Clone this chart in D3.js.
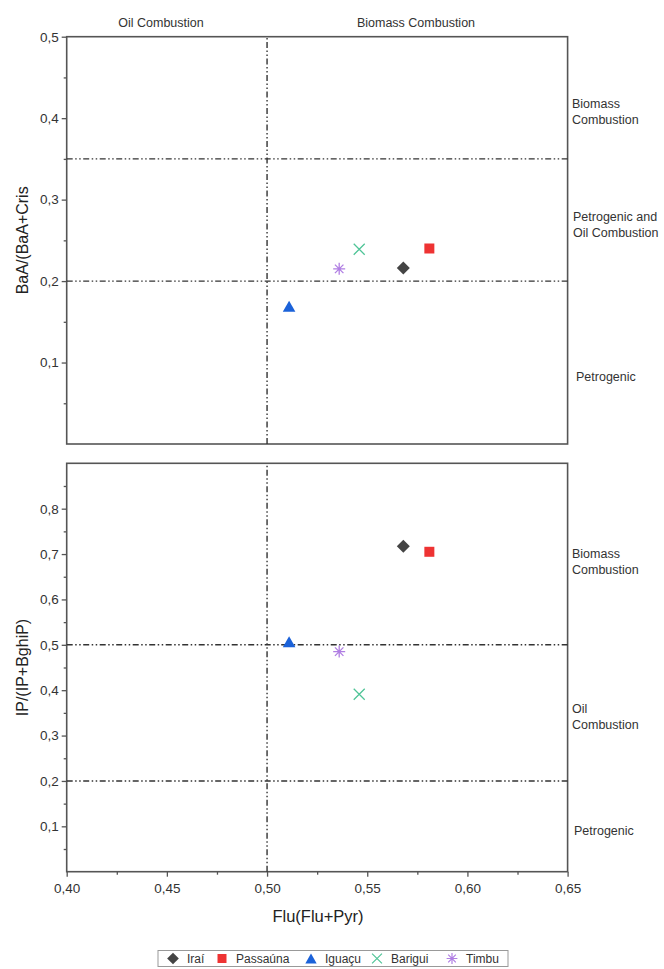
<!DOCTYPE html>
<html>
<head>
<meta charset="utf-8">
<script src="https://cdn.jsdelivr.net/npm/d3@7"></script>
<style>
  body { margin: 0; background: #fff; }
  svg { font-family: "Liberation Sans", Arial, sans-serif; }
</style>
</head>
<body>
<svg id="chart" width="664" height="969"></svg>
<script>
// sample sites and their diagnostic ratios
var sites = ['Iraí', 'Passaúna', 'Iguaçu', 'Barigui', 'Timbu'];
var fluRatio = [0.568, 0.581, 0.511, 0.546, 0.536];   // Flu/(Flu+Pyr)
var baaRatio = [0.216, 0.240, 0.169, 0.239, 0.215];   // BaA/(BaA+Cris)
var ipRatio  = [0.717, 0.705, 0.507, 0.391, 0.485];   // IP/(IP+BghiP)

var xTicks = [0.40, 0.45, 0.50, 0.55, 0.60, 0.65];
var topYTicks = [0.1, 0.2, 0.3, 0.4, 0.5];
var botYTicks = [0.1, 0.2, 0.3, 0.4, 0.5, 0.6, 0.7, 0.8];
var topLimits = [0.2, 0.35];
var botLimits = [0.2, 0.5];
var xLimit = 0.5;

var colors = ['#444444', '#ee3333', '#1b62d9', '#4fc497', '#b07ee3'];
var shapes = ['diamond', 'square', 'triangle', 'cross', 'asterisk'];

var svg = d3.select('#chart');
var lineCol = '#555';
var dashPattern = '6,2.5,1.5,2.5,1.5,2.5';
var comma = function (f) { return function (d) { return d3.format(f)(d).replace('.', ','); }; };

var x = d3.scaleLinear().domain([0.40, 0.65]).range([66.7, 567.6]);
var yTop = d3.scaleLinear().domain([0, 0.5]).range([444, 36.7]);
var yBot = d3.scaleLinear().domain([0, 0.9]).range([871.7, 463.3]);

// marker path generator
function markerPath(shape) {
    var p = d3.path();
    if (shape === 'diamond') {
        p.moveTo(0, -6.5); p.lineTo(6.5, 0); p.lineTo(0, 6.5); p.lineTo(-6.5, 0); p.closePath();
    } else if (shape === 'square') {
        p.rect(-5, -5, 10, 10);
    } else if (shape === 'triangle') {
        p.moveTo(0, -5.5); p.lineTo(6.3, 5.5); p.lineTo(-6.3, 5.5); p.closePath();
    } else if (shape === 'cross') {
        p.moveTo(-5.5, -5.5); p.lineTo(5.5, 5.5); p.moveTo(5.5, -5.5); p.lineTo(-5.5, 5.5);
    } else {
        for (var k = 0; k < 4; k++) {
            var a = k * Math.PI / 4;
            p.moveTo(-6 * Math.cos(a), -6 * Math.sin(a));
            p.lineTo(6 * Math.cos(a), 6 * Math.sin(a));
        }
    }
    return p.toString();
}

function drawMarker(g, i, cx, cy) {
    var filled = shapes[i] === 'diamond' || shapes[i] === 'square' || shapes[i] === 'triangle';
    g.append('path')
        .attr('d', markerPath(shapes[i]))
        .attr('transform', 'translate(' + cx + ',' + cy + ')')
        .attr('fill', filled ? colors[i] : 'none')
        .attr('stroke', colors[i])
        .attr('stroke-width', filled ? 0 : 1.3);
}

function drawPanel(y, yTicks, limits, yVals, yTitle, showX) {
    var g = svg.append('g');
    var x0 = x.range()[0], x1 = x.range()[1];
    var y0 = y.range()[0], y1 = y.range()[1];

    // minor + major y ticks
    var minor = d3.range(0.05, y.domain()[1], 0.1);
    var yAxis = d3.axisLeft(y).tickValues(yTicks).tickFormat(comma('.1f')).tickSize(5).tickPadding(3);
    g.append('g').attr('transform', 'translate(' + x0 + ',0)').call(yAxis);
    g.append('g').attr('transform', 'translate(' + x0 + ',0)')
        .call(d3.axisLeft(y).tickValues(minor).tickFormat('').tickSize(3));

    if (showX) {
        g.append('g').attr('transform', 'translate(0,' + y0 + ')')
            .call(d3.axisBottom(x).tickValues(xTicks).tickFormat(comma('.2f')).tickSize(5).tickPadding(7));
        g.append('g').attr('transform', 'translate(0,' + y0 + ')')
            .call(d3.axisBottom(x).tickValues(d3.range(0.425, 0.65, 0.05)).tickFormat('').tickSize(3));
    }
    g.selectAll('.domain').remove();
    g.selectAll('.tick line').attr('stroke', lineCol).attr('stroke-width', 1.3);
    g.selectAll('.tick text').attr('fill', '#333').style('font-size', '13.5px');

    // frame
    g.append('rect')
        .attr('x', x0).attr('y', y1)
        .attr('width', x1 - x0).attr('height', y0 - y1)
        .attr('fill', 'none').attr('stroke', lineCol).attr('stroke-width', 1.6);

    // threshold lines
    g.selectAll('.hlim').data(limits).enter().append('line')
        .attr('x1', x0).attr('x2', x1)
        .attr('y1', function (d) { return y(d); }).attr('y2', function (d) { return y(d); })
        .attr('stroke', '#333').attr('stroke-width', 1.4).attr('stroke-dasharray', dashPattern);
    g.append('line')
        .attr('x1', x(xLimit)).attr('x2', x(xLimit))
        .attr('y1', y0).attr('y2', y1)
        .attr('stroke', '#333').attr('stroke-width', 1.4).attr('stroke-dasharray', dashPattern);

    // points
    sites.forEach(function (s, i) {
        drawMarker(g, i, x(fluRatio[i]), y(yVals[i]));
    });

    // y title
    g.append('text')
        .attr('transform', 'translate(27.5,' + ((y0 + y1) / 2) + ') rotate(-90)')
        .attr('text-anchor', 'middle')
        .attr('fill', '#222').style('font-size', '16px')
        .text(yTitle);
    return g;
}

drawPanel(yTop, topYTicks, topLimits, baaRatio, 'BaA/(BaA+Cris', false);
drawPanel(yBot, botYTicks, botLimits, ipRatio, 'IP/(IP+BghiP)', true);

// region labels
var labStyle = function (t) { t.attr('fill', '#333').style('font-size', '12.5px'); };
svg.append('text').attr('x', 161).attr('y', 27).attr('text-anchor', 'middle').call(labStyle).text('Oil Combustion');
svg.append('text').attr('x', 416).attr('y', 27).attr('text-anchor', 'middle').call(labStyle).text('Biomass Combustion');

var rightLabels = [
    { x: 572, y: 108, lines: ['Biomass', 'Combustion'] },
    { x: 573, y: 221, lines: ['Petrogenic and', 'Oil Combustion'] },
    { x: 576, y: 381, lines: ['Petrogenic'] },
    { x: 572, y: 558, lines: ['Biomass', 'Combustion'] },
    { x: 572, y: 713, lines: ['Oil', 'Combustion'] },
    { x: 574, y: 835, lines: ['Petrogenic'] }
];
rightLabels.forEach(function (r) {
    var t = svg.append('text').attr('x', r.x).attr('y', r.y).call(labStyle);
    r.lines.forEach(function (l, k) {
        t.append('tspan').attr('x', r.x).attr('dy', k === 0 ? 0 : 15.5).text(l);
    });
});

// x title
svg.append('text').attr('x', 318).attr('y', 922).attr('text-anchor', 'middle')
    .attr('fill', '#222').style('font-size', '16.5px').text('Flu(Flu+Pyr)');

// legend
var legend = svg.append('g');
legend.append('rect').attr('x', 158).attr('y', 950.5).attr('width', 350).attr('height', 16)
    .attr('fill', '#fff').attr('stroke', '#999').attr('stroke-width', 1);
var legX = [173, 222, 311, 377, 452];
sites.forEach(function (s, i) {
    var mg = legend.append('g').attr('transform', 'translate(' + legX[i] + ',958.5) scale(0.9)');
    drawMarker(mg, i, 0, 0);
    legend.append('text').attr('x', legX[i] + 14).attr('y', 963)
        .attr('fill', '#333').style('font-size', '12px').text(s);
});
</script>
</body>
</html>
